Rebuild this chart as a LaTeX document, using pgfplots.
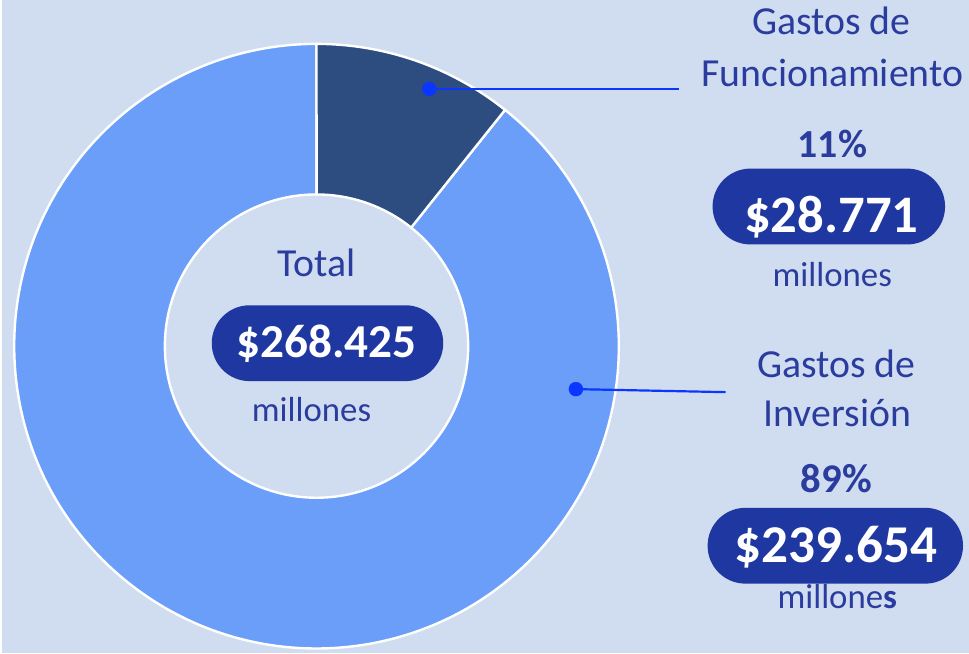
\documentclass[border=0pt]{standalone}
\usepackage{pgfplots}
\pgfplotsset{compat=1.18}
\usepackage{pgfplotstable}
\usepackage{fontspec}
\setmainfont{Carlito}
\definecolor{bg}{HTML}{D0DCEF}
\definecolor{lightc}{HTML}{6A9EF8}
\definecolor{darkc}{HTML}{2D4C80}
\definecolor{pill}{HTML}{1F37A0}
\definecolor{txt}{HTML}{2A3D9E}
\definecolor{leader}{HTML}{0A36FF}

% values in thousands of millions (miles de millones)
\pgfplotstableread{
categoria valor
Funcionamiento 28.771
Inversion 239.654
}\gastos

\newcommand{\fs}[1]{\fontsize{#1}{#1}\selectfont}

\begin{document}
\pgfplotstablegetelem{0}{valor}\of\gastos \let\vA\pgfplotsretval
\pgfplotstablegetelem{1}{valor}\of\gastos \let\vB\pgfplotsretval
\pgfmathsetmacro\aEnd{90-360*\vA/(\vA+\vB)}
\begin{tikzpicture}
\path[use as bounding box, fill=bg] (0,0) rectangle (969bp,655bp);
\begin{axis}[at={(315bp,308bp)}, anchor=origin, x=303bp, y=303bp,
  xmin=-1.03, xmax=1.03, ymin=-1.01, ymax=1.01, hide axis, clip=false]
% Inversion slice
\fill[lightc, draw=white, line width=2.4bp]
  (axis cs:{cos(\aEnd)},{sin(\aEnd)}) arc[start angle=\aEnd, end angle=-270, radius=303bp]
  -- (axis cs:0,0.502) arc[start angle=-270, end angle=\aEnd, radius=152bp] -- cycle;
% Funcionamiento slice
\fill[darkc, draw=white, line width=2.4bp]
  (axis cs:0,1) arc[start angle=90, end angle=\aEnd, radius=303bp]
  -- (axis cs:{0.502*cos(\aEnd)},{0.502*sin(\aEnd)}) arc[start angle=\aEnd, end angle=90, radius=152bp] -- cycle;
% leader lines
\addplot[leader, line width=2.2bp] coordinates {(0.373,0.851) (1.198,0.851)};
\addplot[leader, line width=2.2bp] coordinates {(0.858,-0.142) (1.353,-0.152)};
\addplot[only marks, mark=*, mark size=7bp, leader] coordinates {(0.373,0.851) (0.858,-0.142)};
\end{axis}
% centre
\node[txt, anchor=base, font=\fs{40}] at (315bp,378bp) {Total};
\fill[pill, rounded corners=37.9bp] (210bp,273bp) rectangle (442bp,349bp);
\node[white, anchor=base, font=\bfseries\fs{47.5}] at (325bp,297bp) {\$268.425};
\node[txt, anchor=base, font=\fs{35}] at (310bp,233bp) {millones};
% Funcionamiento
\node[txt, anchor=base, font=\fs{40}] at (831bp,620bp) {Gastos de};
\node[txt, anchor=base, font=\fs{40}] at (832bp,568bp) {Funcionamiento};
\node[txt, anchor=base, font=\bfseries\fs{40}] at (832bp,497bp) {11\%};
\fill[pill, rounded corners=37.9bp] (712bp,410bp) rectangle (945bp,486bp);
\node[white, anchor=base, font=\bfseries\fs{53}] at (831bp,422bp) {\$28.771};
\node[txt, anchor=base, font=\fs{35}] at (832bp,368bp) {millones};
% Inversion
\node[txt, anchor=base, font=\fs{40}] at (836bp,277bp) {Gastos de};
\node[txt, anchor=base, font=\fs{40}] at (837bp,228bp) {Inversión};
\node[txt, anchor=base, font=\bfseries\fs{41}] at (836bp,161bp) {89\%};
\fill[pill, rounded corners=37.9bp] (707bp,70bp) rectangle (963bp,146bp);
\node[white, anchor=base, font=\bfseries\fs{53.5}] at (836bp,91bp) {\$239.654};
\node[txt, anchor=base, font=\fs{35}] at (837bp,45bp) {millone\textbf{s}};
\end{tikzpicture}
\end{document}
